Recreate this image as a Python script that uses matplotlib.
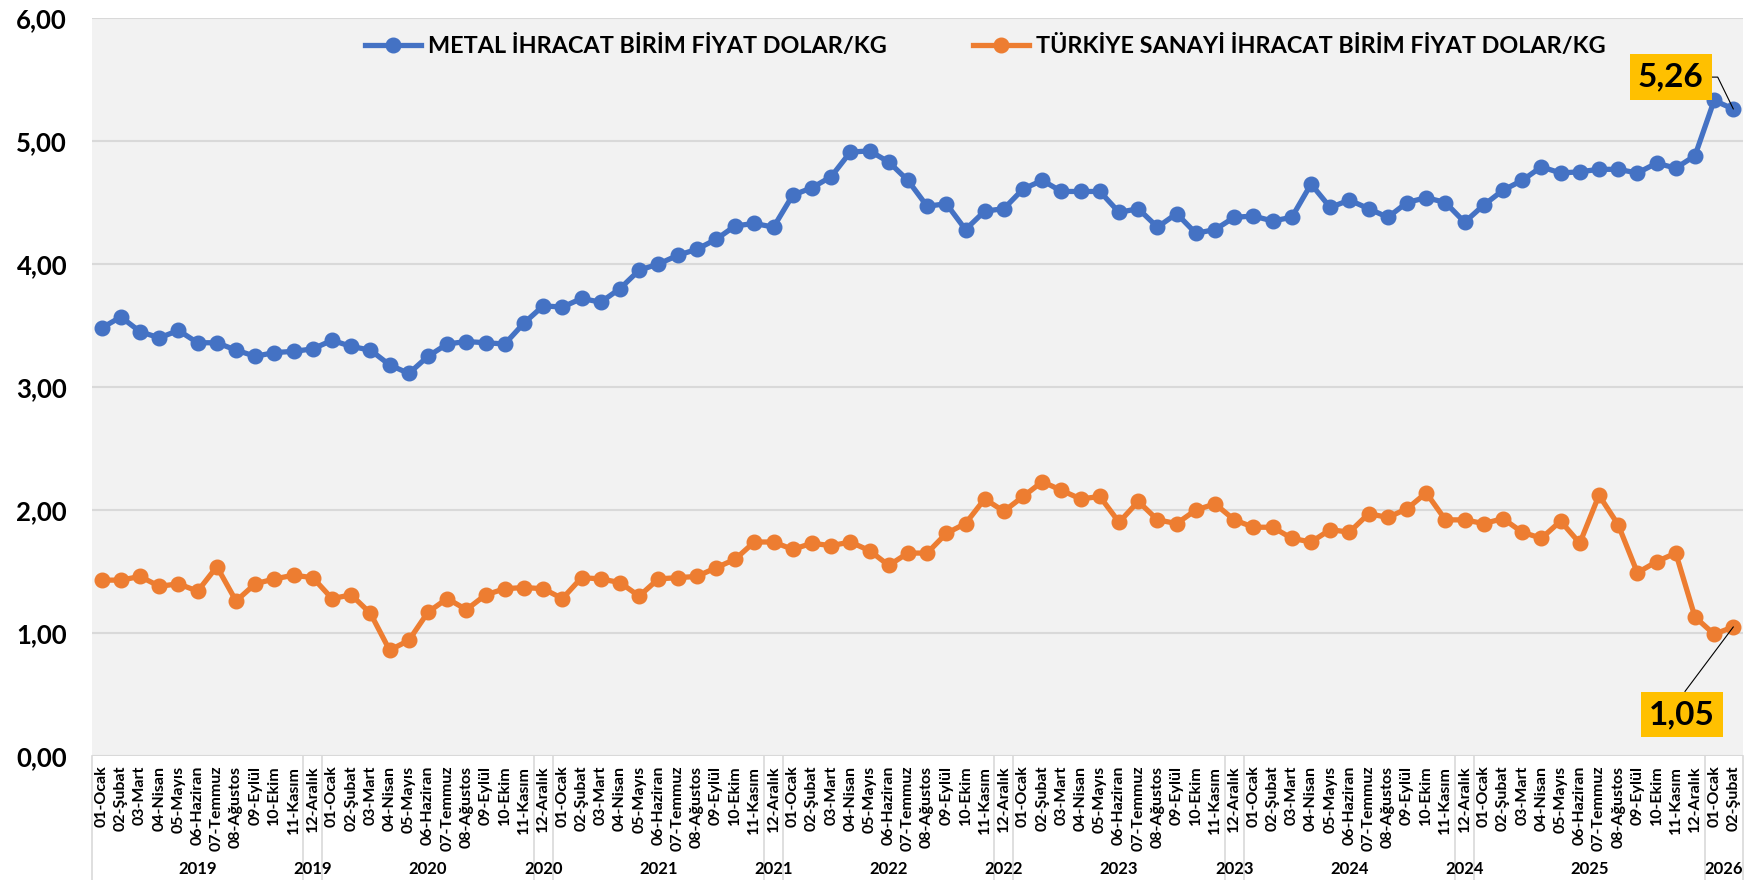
# %% biblioteke

import matplotlib.pyplot as plt
from matplotlib.ticker import FuncFormatter
from matplotlib.transforms import blended_transform_factory

plt.rcParams['font.family'] = ['Lato', 'DejaVu Sans']
plt.rcParams['font.weight'] = 'bold'

# %% podaci

metal = [3.48, 3.57, 3.45, 3.40, 3.46, 3.36, 3.36, 3.30, 3.25, 3.28, 3.29, 3.31,
         3.38, 3.33, 3.30, 3.18, 3.11, 3.25, 3.35, 3.37, 3.36, 3.35, 3.52, 3.66,
         3.65, 3.72, 3.69, 3.80, 3.95, 4.00, 4.07, 4.12, 4.20, 4.31, 4.33, 4.30,
         4.56, 4.62, 4.71, 4.91, 4.92, 4.83, 4.68, 4.47, 4.49, 4.28, 4.43, 4.45,
         4.61, 4.68, 4.59, 4.59, 4.59, 4.42, 4.45, 4.30, 4.41, 4.25, 4.28, 4.38,
         4.39, 4.35, 4.38, 4.65, 4.46, 4.52, 4.45, 4.38, 4.50, 4.54, 4.50, 4.34,
         4.48, 4.60, 4.68, 4.79, 4.74, 4.75, 4.77, 4.77, 4.74, 4.82, 4.78, 4.88,
         5.33, 5.26]

sanayi = [1.43, 1.43, 1.46, 1.38, 1.40, 1.34, 1.54, 1.26, 1.40, 1.44, 1.47, 1.45,
          1.28, 1.31, 1.16, 0.86, 0.94, 1.17, 1.28, 1.19, 1.31, 1.36, 1.37, 1.36,
          1.28, 1.45, 1.44, 1.41, 1.30, 1.44, 1.45, 1.46, 1.53, 1.60, 1.74, 1.74,
          1.68, 1.73, 1.71, 1.74, 1.67, 1.55, 1.65, 1.65, 1.81, 1.89, 2.09, 1.99,
          2.11, 2.23, 2.16, 2.09, 2.11, 1.90, 2.07, 1.92, 1.89, 2.00, 2.05, 1.92,
          1.86, 1.86, 1.77, 1.74, 1.84, 1.82, 1.97, 1.94, 2.01, 2.14, 1.92, 1.92,
          1.89, 1.93, 1.82, 1.77, 1.91, 1.73, 2.12, 1.88, 1.49, 1.58, 1.65, 1.13,
          0.99, 1.05]

aylar = ['01-Ocak', '02-Şubat', '03-Mart', '04-Nisan', '05-Mayıs', '06-Haziran',
         '07-Temmuz', '08-Ağustos', '09-Eylül', '10-Ekim', '11-Kasım', '12-Aralık']

yillar = [2019] * 12 + [2020] * 12 + [2021] * 12 + [2022] * 12 + \
         [2023] * 12 + [2024] * 12 + [2025] * 12 + [2026] * 2

# godine kod kojih je Aralik u posebnoj grupi na osi
aralik_ayri = [2019, 2020, 2021, 2022, 2023, 2024]

naziv_metal = 'METAL İHRACAT BİRİM FİYAT DOLAR/KG'
naziv_sanayi = 'TÜRKİYE SANAYİ İHRACAT BİRİM FİYAT DOLAR/KG'

n = len(metal)
x = list(range(n))
ay_etiketleri = [aylar[i % 12] for i in range(n)]

# grupe godina za donji red ose
gruppe = []
for i in range(n):
    novi = (i == 0 or yillar[i] != yillar[i - 1] or
            (i % 12 == 11 and yillar[i] in aralik_ayri))
    if novi:
        gruppe.append([yillar[i], i, i])
    else:
        gruppe[-1][2] = i

# %% grafik

fig = plt.figure(figsize=(17.44, 8.8), dpi=100)
ax = fig.add_axes([0.0528, 0.1409, 0.9466, 0.8386])
ax.set_facecolor('#F2F2F2')

plavo = '#4472C4'
narandz = '#ED7D31'

ax.plot(x, metal, color=plavo, lw=3.8, marker='o', markersize=10.5,
        label=naziv_metal, zorder=3)
ax.plot(x, sanayi, color=narandz, lw=3.8, marker='o', markersize=10.5,
        label=naziv_sanayi, zorder=3)

ax.set_ylim(0, 6)
ax.set_xlim(-0.5, n - 0.5)
ax.set_yticks(range(0, 7))
ax.yaxis.set_major_formatter(FuncFormatter(lambda v, p: f'{v:.2f}'.replace('.', ',')))
ax.grid(axis='y', color='#D9D9D9', lw=1.5, zorder=0)
ax.set_axisbelow(True)
for s in ax.spines.values():
    s.set_visible(False)
ax.tick_params(axis='y', length=0, pad=18, labelsize=18.5)

ax.set_xticks(x)
ax.set_xticklabels(ay_etiketleri, rotation=90, fontsize=11.5)
ax.tick_params(axis='x', length=0, pad=7)

# donji red ose: godine i separatori
tr = blended_transform_factory(ax.transData, ax.transAxes)
for god, i0, i1 in gruppe:
    ax.text((i0 + i1) / 2, -0.153, str(god), transform=tr, ha='center',
            va='center', fontsize=12, fontweight='bold')
    ax.plot([i0 - 0.5, i0 - 0.5], [0, -0.17], transform=tr, color='#D9D9D9',
            lw=1.2, clip_on=False)
ax.plot([n - 0.5, n - 0.5], [0, -0.17], transform=tr, color='#D9D9D9',
        lw=1.2, clip_on=False)

ax.legend(loc='center', bbox_to_anchor=(0.541, 0.962), ncol=2, frameon=False,
          fontsize=16.8, handlelength=2.4, columnspacing=3.7, handletextpad=0.3)

# oznake poslednjih vrednosti
ax.annotate(f'{metal[-1]:.2f}'.replace('.', ','), xy=(n - 1, metal[-1]),
            xytext=(-45, 23), textcoords='offset points', ha='center',
            va='center', fontsize=24, fontweight='bold',
            bbox=dict(boxstyle='square,pad=0.25', fc='#FFC000', ec='none'),
            arrowprops=dict(arrowstyle='-', color='black', lw=0.8, relpos=(1, 0.5),
                            connectionstyle='arc,angleA=0,armA=14,angleB=0,armB=0,rad=0',
                            shrinkA=0, shrinkB=0))

ax.annotate(f'{sanayi[-1]:.2f}'.replace('.', ','), xy=(n - 1, sanayi[-1]),
            xytext=(-37, -63), textcoords='offset points', ha='center',
            va='center', fontsize=24, fontweight='bold',
            bbox=dict(boxstyle='square,pad=0.25', fc='#FFC000', ec='none'),
            arrowprops=dict(arrowstyle='-', color='black', lw=0.8, relpos=(0.45, 1),
                            shrinkA=0, shrinkB=0))

fig.savefig('out.png', dpi=100)
